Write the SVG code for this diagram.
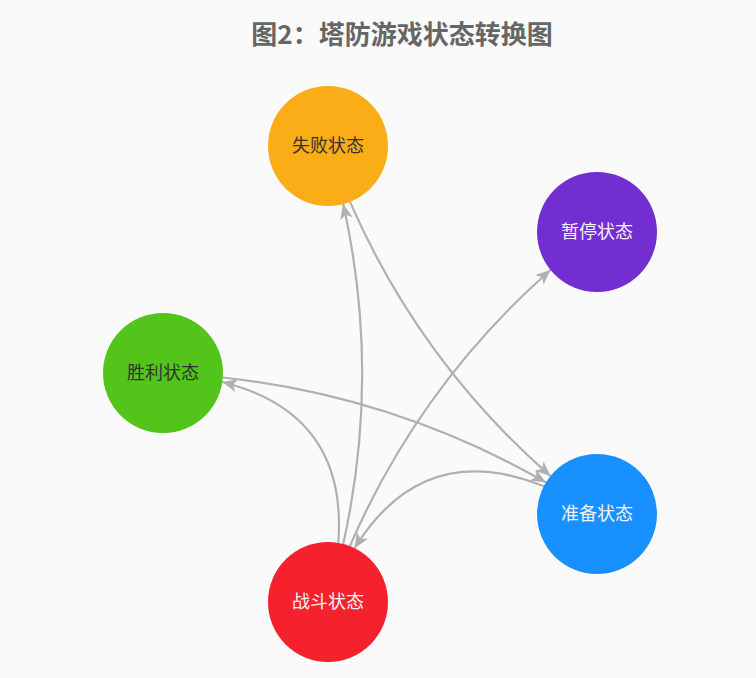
<svg xmlns="http://www.w3.org/2000/svg" width="756" height="678" viewBox="0 0 756 678">
<style>
.edge{fill:none;stroke:#b0b0b0;stroke-width:2.2}
.lbl{font-family:"Noto Sans CJK SC","Noto Sans",sans-serif;font-size:18px;text-anchor:middle;dominant-baseline:central}
.dark{fill:#333}
.light{fill:#f2f2f2}
.title{font-family:"Noto Sans CJK SC","Noto Sans",sans-serif;font-size:26px;font-weight:bold;fill:#666;text-anchor:middle;dominant-baseline:central}
</style>
<defs>
<marker id="arr" viewBox="-16 -8 17 16" markerWidth="17" markerHeight="16" refX="0" refY="0" orient="auto" markerUnits="userSpaceOnUse">
<path d="M0,0 L-15,-6.5 L-11,0 L-15,6.5 Z" fill="#b0b0b0"/>
</marker>
</defs>
<rect width="756" height="678" fill="#fafafa"/>
<text class="title" x="402" y="32">图2：塔防游戏状态转换图</text>
<g id="connectors">
<path class="edge" d="M343.2,543.9 Q381.2,374 343.2,204.1" marker-end="url(#arr)"/>
<path class="edge" d="M350,201.9 Q419.6,361.4 550.5,476.1" marker-end="url(#arr)"/>
<path class="edge" d="M349.9,546.1 Q419.4,385.6 550.5,270" marker-end="url(#arr)"/>
<path class="edge" d="M543.8,486.3 Q423.1,437.4 354.6,548.2" marker-end="url(#arr)"/>
<path class="edge" d="M338.3,542.9 Q348.1,413.6 222.3,382" marker-end="url(#arr)"/>
<path class="edge" d="M222.8,377.5 Q395.3,396.3 545.9,482.4" marker-end="url(#arr)"/>
</g>
<g id="node-fail">
<circle cx="328" cy="146" r="60" fill="#fbad17"/>
<text class="lbl dark" x="328" y="144">失败状态</text>
</g>
<g id="node-pause">
<circle cx="597" cy="232" r="60" fill="#722ed1"/>
<text class="lbl light" x="597" y="230">暂停状态</text>
</g>
<g id="node-win">
<circle cx="163" cy="373" r="60" fill="#52c41a"/>
<text class="lbl dark" x="163" y="371">胜利状态</text>
</g>
<g id="node-ready">
<circle cx="597" cy="514" r="60" fill="#1890ff"/>
<text class="lbl light" x="597" y="512">准备状态</text>
</g>
<g id="node-battle">
<circle cx="328" cy="602" r="60" fill="#f5222d"/>
<text class="lbl light" x="328" y="600">战斗状态</text>
</g>
</svg>
